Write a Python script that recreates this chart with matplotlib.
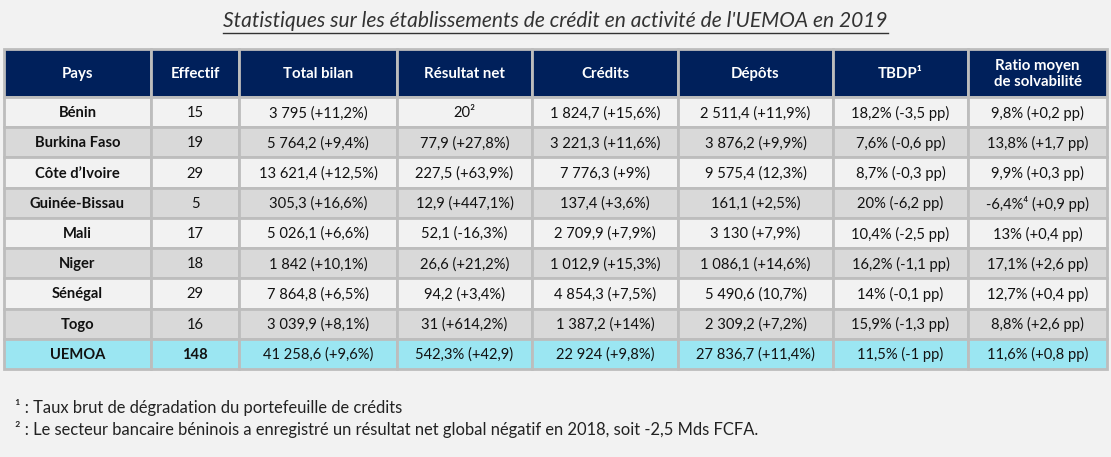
import matplotlib.pyplot as plt
from matplotlib.patches import Rectangle

plt.rcParams['font.family'] = ['Lato', 'DejaVu Sans']

# table content
headers = ['Pays', 'Effectif', 'Total bilan', 'Résultat net', 'Crédits',
           'Dépôts', 'TBDP¹', 'Ratio moyen\nde solvabilité']
pays = ['Bénin', 'Burkina Faso', 'Côte d’Ivoire', 'Guinée-Bissau', 'Mali',
        'Niger', 'Sénégal', 'Togo', 'UEMOA']
effectif = ['15', '19', '29', '5', '17', '18', '29', '16', '148']
total_bilan = ['3 795 (+11,2%)', '5 764,2 (+9,4%)', '13 621,4 (+12,5%)', '305,3 (+16,6%)',
               '5 026,1 (+6,6%)', '1 842 (+10,1%)', '7 864,8 (+6,5%)', '3 039,9 (+8,1%)',
               '41 258,6 (+9,6%)']
resultat_net = ['20²', '77,9 (+27,8%)', '227,5 (+63,9%)', '12,9 (+447,1%)',
                '52,1 (-16,3%)', '26,6 (+21,2%)', '94,2 (+3,4%)', '31 (+614,2%)',
                '542,3% (+42,9)']
credits = ['1 824,7 (+15,6%)', '3 221,3 (+11,6%)', '7 776,3 (+9%)', '137,4 (+3,6%)',
           '2 709,9 (+7,9%)', '1 012,9 (+15,3%)', '4 854,3 (+7,5%)', '1 387,2 (+14%)',
           '22 924 (+9,8%)']
depots = ['2 511,4 (+11,9%)', '3 876,2 (+9,9%)', '9 575,4 (12,3%)', '161,1 (+2,5%)',
          '3 130 (+7,9%)', '1 086,1 (+14,6%)', '5 490,6 (10,7%)', '2 309,2 (+7,2%)',
          '27 836,7 (+11,4%)']
tbdp = ['18,2% (-3,5 pp)', '7,6% (-0,6 pp)', '8,7% (-0,3 pp)', '20% (-6,2 pp)',
        '10,4% (-2,5 pp)', '16,2% (-1,1 pp)', '14% (-0,1 pp)', '15,9% (-1,3 pp)',
        '11,5% (-1 pp)']
solvabilite = ['9,8% (+0,2 pp)', '13,8% (+1,7 pp)', '9,9% (+0,3 pp)', '-6,4%⁴ (+0,9 pp)',
               '13% (+0,4 pp)', '17,1% (+2,6 pp)', '12,7% (+0,4 pp)', '8,8% (+2,6 pp)',
               '11,6% (+0,8 pp)']
columns = [pays, effectif, total_bilan, resultat_net, credits, depots, tbdp, solvabilite]

title = "Statistiques sur les établissements de crédit en activité de l'UEMOA en 2019"
notes = ['¹ : Taux brut de dégradation du portefeuille de crédits',
         '² : Le secteur bancaire béninois a enregistré un résultat net global négatif en 2018, soit -2,5 Mds FCFA.']

# layout in pixels
W, H = 1111, 457
col_edges = [4, 151, 239, 397, 532, 678, 833, 968, 1107]
top, head_bot, bottom = 49, 97, 369
row_h = (bottom - head_bot) / len(pays)

bg = '#f2f2f2'
navy = '#00205b'
grey = '#d9d9d9'
cyan = '#9be6f2'
line = '#bdbdbd'

fig = plt.figure(figsize=(W / 100, H / 100), dpi=100, facecolor=bg)
ax = fig.add_axes([0, 0, 1, 1])
ax.set_xlim(0, W)
ax.set_ylim(H, 0)
ax.axis('off')

# title
t = ax.text(W / 2, 21, title, ha='center', va='center', fontsize=15.1,
            style='italic', color='#333333')
fig.canvas.draw()
bb = t.get_window_extent().transformed(ax.transData.inverted())
ax.plot([bb.x0, bb.x1], [33, 33], color='#333333', lw=1)

# header
for j, h in enumerate(headers):
    x0, x1 = col_edges[j], col_edges[j + 1]
    ax.add_patch(Rectangle((x0, top), x1 - x0, head_bot - top, facecolor=navy,
                           edgecolor=line, lw=2))
    ax.text((x0 + x1) / 2, (top + head_bot) / 2 + 1, h, ha='center', va='center',
            color='white', fontsize=10.8, fontweight='bold', linespacing=1.15)

# body
n = len(pays)
for i in range(n):
    y0 = head_bot + i * row_h
    if i == n - 1:
        fc = cyan
    elif i % 2 == 0:
        fc = bg
    else:
        fc = grey
    for j, col in enumerate(columns):
        x0, x1 = col_edges[j], col_edges[j + 1]
        ax.add_patch(Rectangle((x0, y0), x1 - x0, row_h, facecolor=fc,
                               edgecolor=line, lw=2))
        bold = (j == 0) or (i == n - 1 and j == 1)
        ax.text((x0 + x1) / 2, y0 + row_h / 2 + 1, col[i], ha='center', va='center',
                color='#111111', fontsize=10.6, fontweight='bold' if bold else 'normal')

# footnotes
for k, note in enumerate(notes):
    ax.text(15, 408 + k * 22, note, ha='left', va='center', fontsize=11.9,
            color='#222222')

fig.savefig('out.png', dpi=100, facecolor=bg)
